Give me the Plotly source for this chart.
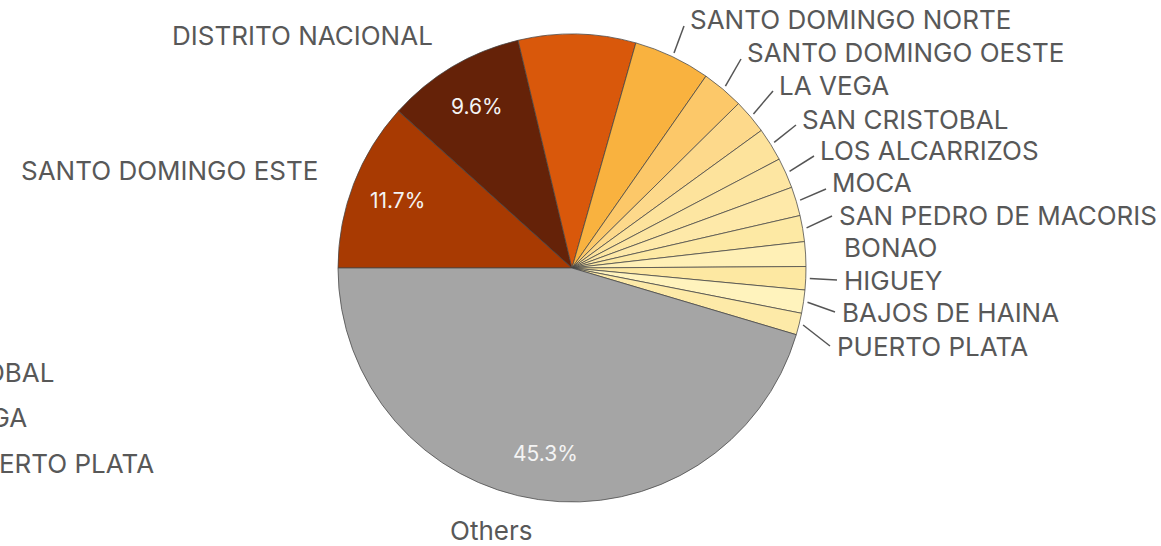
import numpy as np
import plotly.graph_objects as go

# slice data, clockwise from 9 o'clock
regions = ["SANTO DOMINGO ESTE", "DISTRITO NACIONAL", "SANTIAGO", "SANTO DOMINGO NORTE",
           "SANTO DOMINGO OESTE", "LA VEGA", "SAN CRISTOBAL", "LOS ALCARRIZOS", "MOCA",
           "SAN PEDRO DE MACORIS", "BONAO", "HIGUEY", "BAJOS DE HAINA", "PUERTO PLATA", "Others"]
shares = [11.7, 9.6, 8.1, 5.3, 2.9, 2.4, 2.3, 2.1, 2.0, 1.8, 1.7, 1.6, 1.6, 1.5, 45.4]
pct_shown = ["11.7%", "9.6%", "", "", "", "", "", "", "", "", "", "", "", "", "45.3%"]
colors = ["#a83a02", "#652208", "#d9580b", "#f9b23f", "#fcc869", "#fdd98b", "#fde39c",
          "#fde6a2", "#fee9a9", "#fde9a4", "#fff0b6", "#fde8a2", "#fff3bd", "#fdeaa8", "#a5a5a5"]

# layout: label anchor (left x, centre y) in pixels for right-side labels
W, H = 1161, 546
CX, CY, R = 572, 268, 234
right_labels = {
    "SANTO DOMINGO NORTE": (688, 20), "SANTO DOMINGO OESTE": (745, 53), "LA VEGA": (777, 85),
    "SAN CRISTOBAL": (800, 119), "LOS ALCARRIZOS": (818, 150), "MOCA": (830, 183),
    "SAN PEDRO DE MACORIS": (837, 216), "BONAO": (842, 248), "HIGUEY": (842, 280),
    "BAJOS DE HAINA": (840, 312), "PUERTO PLATA": (835, 346),
}
no_leader = {"BONAO"}
FONT = "Inter"
TXT = "#585858"


def px(x, y):
    return x / W, 1 - y / H


fig = go.Figure(go.Pie(
    labels=regions,
    values=shares,
    sort=False,
    direction="clockwise",
    rotation=270,
    marker=dict(colors=colors, line=dict(color="rgba(70,70,70,0.75)", width=1)),
    textinfo="none",
    hoverinfo="label+percent",
    showlegend=False,
    domain=dict(x=[(CX - R) / W, (CX + R) / W], y=[(H - CY - R) / H, (H - CY + R) / H]),
))

total = sum(shares)
cum = 0
mids = {}
for name, v in zip(regions, shares):
    mids[name] = np.radians(180 - 360 * (cum + v / 2) / total)
    cum += v

annotations = []
shapes = []

# percentages inside the big slices
for name, t in zip(regions, pct_shown):
    if not t:
        continue
    a = mids[name]
    x, y = px(CX + 0.8 * R * np.cos(a), CY - 0.8 * R * np.sin(a))
    annotations.append(dict(x=x, y=y, xref="paper", yref="paper", text=t, showarrow=False,
                            xanchor="center", yanchor="middle",
                            font=dict(family=FONT, size=21, color="#f4f4f4")))

# right-side labels with leader lines
for name, (lx, ly) in right_labels.items():
    x, y = px(lx, ly)
    annotations.append(dict(x=x, y=y, xref="paper", yref="paper", text=name, showarrow=False,
                            xanchor="left", yanchor="middle",
                            font=dict(family=FONT, size=26, color=TXT)))
    if name in no_leader:
        continue
    a = mids[name]
    x0, y0 = px(CX + 238 * np.cos(a), CY - 238 * np.sin(a))
    ex, ey = (lx - 4, ly + 6) if ly < 200 else (lx - 5, ly)
    x1, y1 = px(ex, ey)
    shapes.append(dict(type="line", xref="paper", yref="paper", x0=x0, y0=y0, x1=x1, y1=y1,
                       line=dict(color="#555555", width=1.5)))

# left-side labels
for text, (rx, cy, anchor) in {
    "DISTRITO NACIONAL": (435, 35, "right"),
    "SANTO DOMINGO ESTE": (320, 170, "right"),
    "Others": (491, 530, "center"),
    "SAN CRISTOBAL": (56, 372, "right"),
    "LA VEGA": (29, 417, "right"),
    "PUERTO PLATA": (156, 463, "right"),
}.items():
    x, y = px(rx, cy)
    annotations.append(dict(x=x, y=y, xref="paper", yref="paper", text=text, showarrow=False,
                            xanchor=anchor, yanchor="middle",
                            font=dict(family=FONT, size=26, color=TXT)))

fig.update_layout(
    width=W, height=H,
    margin=dict(l=0, r=0, t=0, b=0),
    paper_bgcolor="white",
    plot_bgcolor="white",
    annotations=annotations,
    shapes=shapes,
)

fig.write_html("out.html", config={"displayModeBar": False},
               post_script="document.body.style.margin = '0';")
